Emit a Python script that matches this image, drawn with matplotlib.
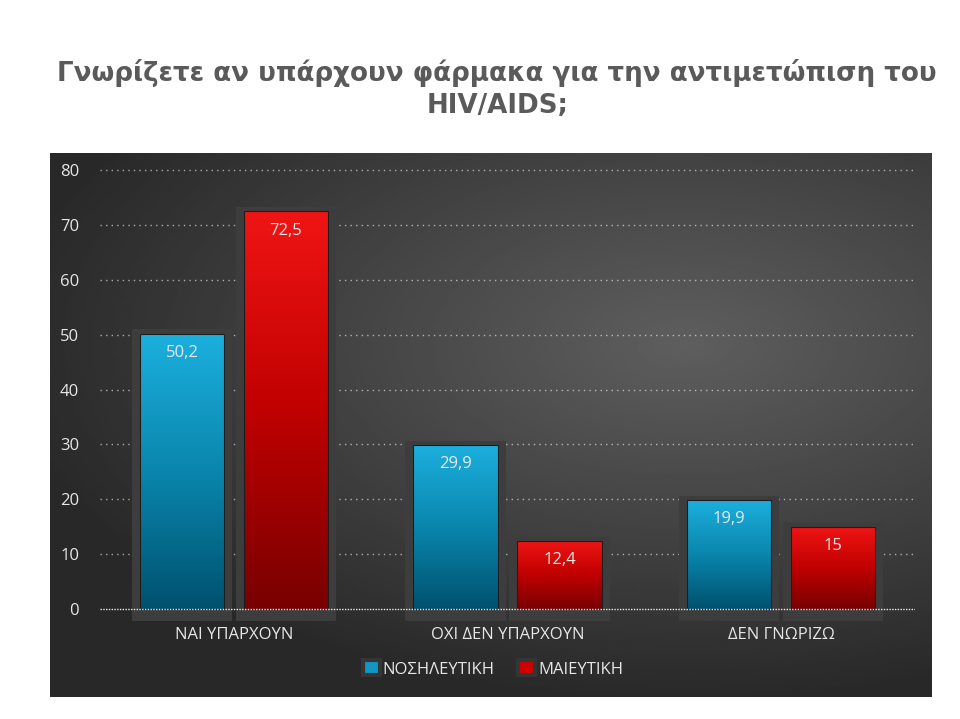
import numpy as np
import matplotlib.pyplot as plt
from matplotlib.colors import LinearSegmentedColormap
from matplotlib.patches import Patch, Rectangle

# data
categories = ["ΝΑΙ ΥΠΑΡΧΟΥΝ", "ΟΧΙ ΔΕΝ ΥΠΑΡΧΟΥΝ", "ΔΕΝ ΓΝΩΡΙΖΩ"]
series_names = ["ΝΟΣΗΛΕΥΤΙΚΗ", "ΜΑΙΕΥΤΙΚΗ"]
nursing = [50.2, 29.9, 19.9]
midwifery = [72.5, 12.4, 15]
y_ticks = [0, 10, 20, 30, 40, 50, 60, 70, 80]
title_lines = ["Γνωρίζετε αν υπάρχουν φάρμακα για την αντιμετώπιση του", "HIV/AIDS;"]

plt.rcParams['font.family'] = ['Open Sans', 'DejaVu Sans']

fig = plt.figure(figsize=(9.6, 7.19), dpi=100)

# dark panel with soft radial gradient
bg = fig.add_axes([50 / 960, 22 / 719, 882 / 960, 544 / 719])
xx, yy = np.meshgrid(np.linspace(0, 1, 300), np.linspace(0, 1, 200))
r = np.sqrt(((xx - 0.72) / 1.0) ** 2 + ((yy - 0.65) / 0.85) ** 2)
shade = np.clip(0.37 - 0.27 * r, 0.16, 0.4)
bg.imshow(shade, cmap="gray", vmin=0, vmax=1, origin="lower",
          extent=(0, 1, 0, 1), aspect="auto")
bg.set_axis_off()

ax = fig.add_axes([100 / 960, (719 - 625.5) / 719, 815 / 960, 466.5 / 719])
ax.patch.set_alpha(0)
for s in ax.spines.values():
    s.set_visible(False)

blue_cmap = LinearSegmentedColormap.from_list("b", ["#00516f", "#0a86ad", "#1cb0de"])
red_cmap = LinearSegmentedColormap.from_list("r", ["#780000", "#c00000", "#f01515"])

x = np.arange(len(categories))
width = 0.31
off = 0.19
grad = np.linspace(0, 1, 256).reshape(-1, 1)

for vals, sign, cmap in [(nursing, -1, blue_cmap), (midwifery, 1, red_cmap)]:
    bars = ax.bar(x + sign * off, vals, width, color="none", edgecolor="#1e1e1e",
                  linewidth=0.8, zorder=4)
    for b, v in zip(bars, vals):
        x0 = b.get_x()
        # shadow box behind bar
        ax.add_patch(Rectangle((x0 - 0.029, -2.2), width + 0.058, v + 2.2 + 0.75,
                               facecolor="#3d3d3d", edgecolor="none", zorder=2))
        im = ax.imshow(grad, cmap=cmap, origin="lower", aspect="auto",
                       extent=(x0, x0 + width, 0, v), zorder=3)
        im.set_clip_path(b)
        ax.annotate(f"{v:g}".replace(".", ","), (x0 + width / 2, v),
                    xytext=(0, -14), textcoords="offset points",
                    ha="center", va="center", color="#e8e8e8", fontsize=12, zorder=6)

for t in y_ticks[1:]:
    ax.axhline(t, color="white", lw=1, ls=(0, (1, 3)), alpha=0.6, zorder=1)
ax.axhline(0, color="white", lw=1, ls=(0, (1, 1)), alpha=0.9, zorder=5)

ax.set_xlim(-0.49, 2.49)
ax.set_ylim(-3, 82)
ax.set_yticks(y_ticks)
ax.set_xticks(x)
ax.set_xticklabels(categories)
ax.tick_params(axis="y", length=0, pad=15, labelcolor="#e6e6e6", labelsize=12)
ax.tick_params(axis="x", length=0, pad=1, labelcolor="#e6e6e6", labelsize=12)

# title: wide bold face, scaled to the reference line width
t1 = fig.text(0.518, 1 - 81 / 719, title_lines[0], ha="center", va="baseline",
              fontsize=18, fontweight="bold", color="#5a5a5a", family="DejaVu Sans")
t2 = fig.text(0.518, 1 - 113 / 719, title_lines[1], ha="center", va="baseline",
              fontsize=18, fontweight="bold", color="#5a5a5a", family="DejaVu Sans")
renderer = fig.canvas.get_renderer()
w = t1.get_window_extent(renderer).width
fs = 18 * 879 / w
t1.set_fontsize(fs)
t2.set_fontsize(fs)

handles = [Patch(facecolor="#1296c4", edgecolor="#353535", linewidth=3),
           Patch(facecolor="#d00000", edgecolor="#353535", linewidth=3)]
fig.legend(handles, series_names, loc="center", bbox_to_anchor=(493 / 960, 1 - 669 / 719),
           ncol=2, frameon=False, handlelength=1.0, handleheight=1.0,
           handletextpad=0.2, columnspacing=1.4, fontsize=12, labelcolor="#e6e6e6")

fig.savefig("out.png", dpi=100)
